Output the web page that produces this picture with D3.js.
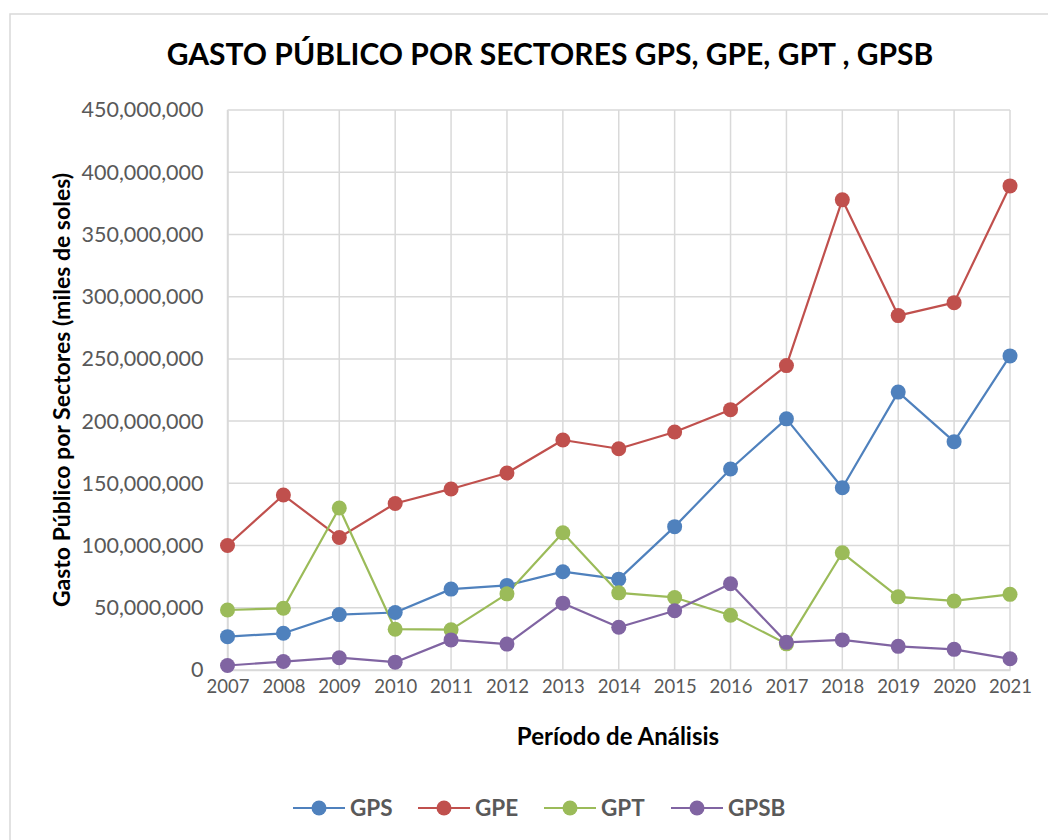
<!DOCTYPE html>
<html>
<head>
<meta charset="utf-8">
<script src="https://cdn.jsdelivr.net/npm/d3@7"></script>
<style>
  body { margin: 0; background: #fff; }
  svg { display: block; font-family: Lato, "Open Sans", sans-serif; }
</style>
</head>
<body>
<svg id="chart" width="1048" height="840"></svg>
<script>
// data (miles de soles)
const years = [2007, 2008, 2009, 2010, 2011, 2012, 2013, 2014, 2015, 2016, 2017, 2018, 2019, 2020, 2021];
const gps  = [26.8e6, 29.5e6, 44.5e6, 46.2e6, 65.0e6, 68.0e6, 79.0e6, 73.0e6, 115.2e6, 161.5e6, 201.8e6, 146.5e6, 223.3e6, 183.5e6, 252.4e6];
const gpe  = [100.0e6, 140.6e6, 106.5e6, 133.8e6, 145.5e6, 158.3e6, 184.8e6, 177.8e6, 191.3e6, 209.2e6, 244.6e6, 377.8e6, 284.8e6, 295.2e6, 389.0e6];
const gpt  = [48.2e6, 49.6e6, 130.2e6, 32.8e6, 32.4e6, 61.2e6, 110.3e6, 62.0e6, 58.3e6, 44.0e6, 21.0e6, 94.2e6, 58.8e6, 55.5e6, 60.8e6];
const gpsb = [3.6e6, 6.8e6, 9.9e6, 6.3e6, 24.2e6, 20.8e6, 53.7e6, 34.3e6, 47.6e6, 69.3e6, 22.2e6, 24.2e6, 19.0e6, 16.6e6, 9.0e6];
const seriesNames = ['GPS', 'GPE', 'GPT', 'GPSB'];
const seriesColors = ['#4F81BD', '#C0504D', '#9BBB59', '#8064A2'];
const yTicks = [0, 50e6, 100e6, 150e6, 200e6, 250e6, 300e6, 350e6, 400e6, 450e6];

const series = [gps, gpe, gpt, gpsb];

const svg = d3.select('#chart');
const plotL = 227.5, plotR = 1010, plotT = 110, plotB = 670;

// outer chart frame
svg.append('rect')
  .attr('x', 10).attr('y', 14)
  .attr('width', 1060).attr('height', 860)
  .attr('fill', '#fff')
  .attr('stroke', '#d9d9d9')
  .attr('stroke-width', 1.5);

svg.append('text')
  .attr('x', 550).attr('y', 65)
  .attr('text-anchor', 'middle')
  .attr('font-size', 30)
  .attr('font-weight', 'bold')
  .attr('fill', '#000')
  .text('GASTO PÚBLICO POR SECTORES GPS, GPE, GPT , GPSB');

const xs = d3.scalePoint().domain(years).range([plotL, plotR]);
const ys = d3.scaleLinear().domain([0, 450e6]).range([plotB, plotT]);

// grid
svg.append('g')
  .selectAll('line')
  .data(yTicks)
  .enter().append('line')
  .attr('x1', plotL).attr('x2', plotR)
  .attr('y1', d => ys(d)).attr('y2', d => ys(d))
  .attr('stroke', '#d9d9d9').attr('stroke-width', 1.5);

svg.append('g')
  .selectAll('line')
  .data(years)
  .enter().append('line')
  .attr('x1', d => xs(d)).attr('x2', d => xs(d))
  .attr('y1', plotT).attr('y2', plotB)
  .attr('stroke', '#d9d9d9').attr('stroke-width', 1.5);

// y axis
const yAxis = svg.append('g')
  .attr('transform', `translate(${plotL},0)`)
  .call(d3.axisLeft(ys).tickValues(yTicks).tickFormat(d3.format(',')).tickSize(0).tickPadding(24));
yAxis.select('.domain').attr('stroke', '#d9d9d9').attr('stroke-width', 1.5);
yAxis.selectAll('text')
  .attr('font-family', 'Lato, sans-serif')
  .attr('font-size', 21.5)
  .attr('fill', '#595959');

// x axis
const xAxis = svg.append('g')
  .attr('transform', `translate(0,${plotB})`)
  .call(d3.axisBottom(xs).tickSize(0).tickPadding(10));
xAxis.select('.domain').attr('stroke', '#d9d9d9').attr('stroke-width', 1.5);
xAxis.selectAll('text')
  .attr('font-family', 'Lato, sans-serif')
  .attr('font-size', 18.5)
  .attr('fill', '#595959');

svg.append('text')
  .attr('x', 618).attr('y', 745)
  .attr('text-anchor', 'middle')
  .attr('font-size', 24)
  .attr('font-weight', 'bold')
  .text('Período de Análisis');

svg.append('text')
  .attr('transform', 'translate(70,390) rotate(-90)')
  .attr('text-anchor', 'middle')
  .attr('font-size', 23)
  .attr('font-weight', 'bold')
  .text('Gasto Público por Sectores (miles de soles)');

// lines and markers
const line = d3.line().x((d, i) => xs(years[i])).y(d => ys(d));

series.forEach((vals, k) => {
  svg.append('path')
    .datum(vals)
    .attr('d', line)
    .attr('fill', 'none')
    .attr('stroke', seriesColors[k])
    .attr('stroke-width', 2.2)
    .attr('stroke-linejoin', 'round');
});

series.forEach((vals, k) => {
  svg.append('g')
    .selectAll('circle')
    .data(vals)
    .enter().append('circle')
    .attr('cx', (d, i) => xs(years[i]))
    .attr('cy', d => ys(d))
    .attr('r', 7.5)
    .attr('fill', seriesColors[k]);
});

// legend
const legendX = [293, 418, 544, 671];
const legend = svg.selectAll('.legend')
  .data(seriesNames)
  .enter().append('g')
  .attr('class', 'legend')
  .attr('transform', (d, i) => `translate(${legendX[i]},808)`);

legend.append('line')
  .attr('x1', 0).attr('x2', 52)
  .attr('stroke', (d, i) => seriesColors[i])
  .attr('stroke-width', 2.2);

legend.append('circle')
  .attr('cx', 26).attr('r', 7.5)
  .attr('fill', (d, i) => seriesColors[i]);

legend.append('text')
  .attr('x', 57).attr('y', 8)
  .attr('font-size', 22.5)
  .attr('font-weight', 'bold')
  .attr('fill', '#595959')
  .text(d => d);
</script>
</body>
</html>
